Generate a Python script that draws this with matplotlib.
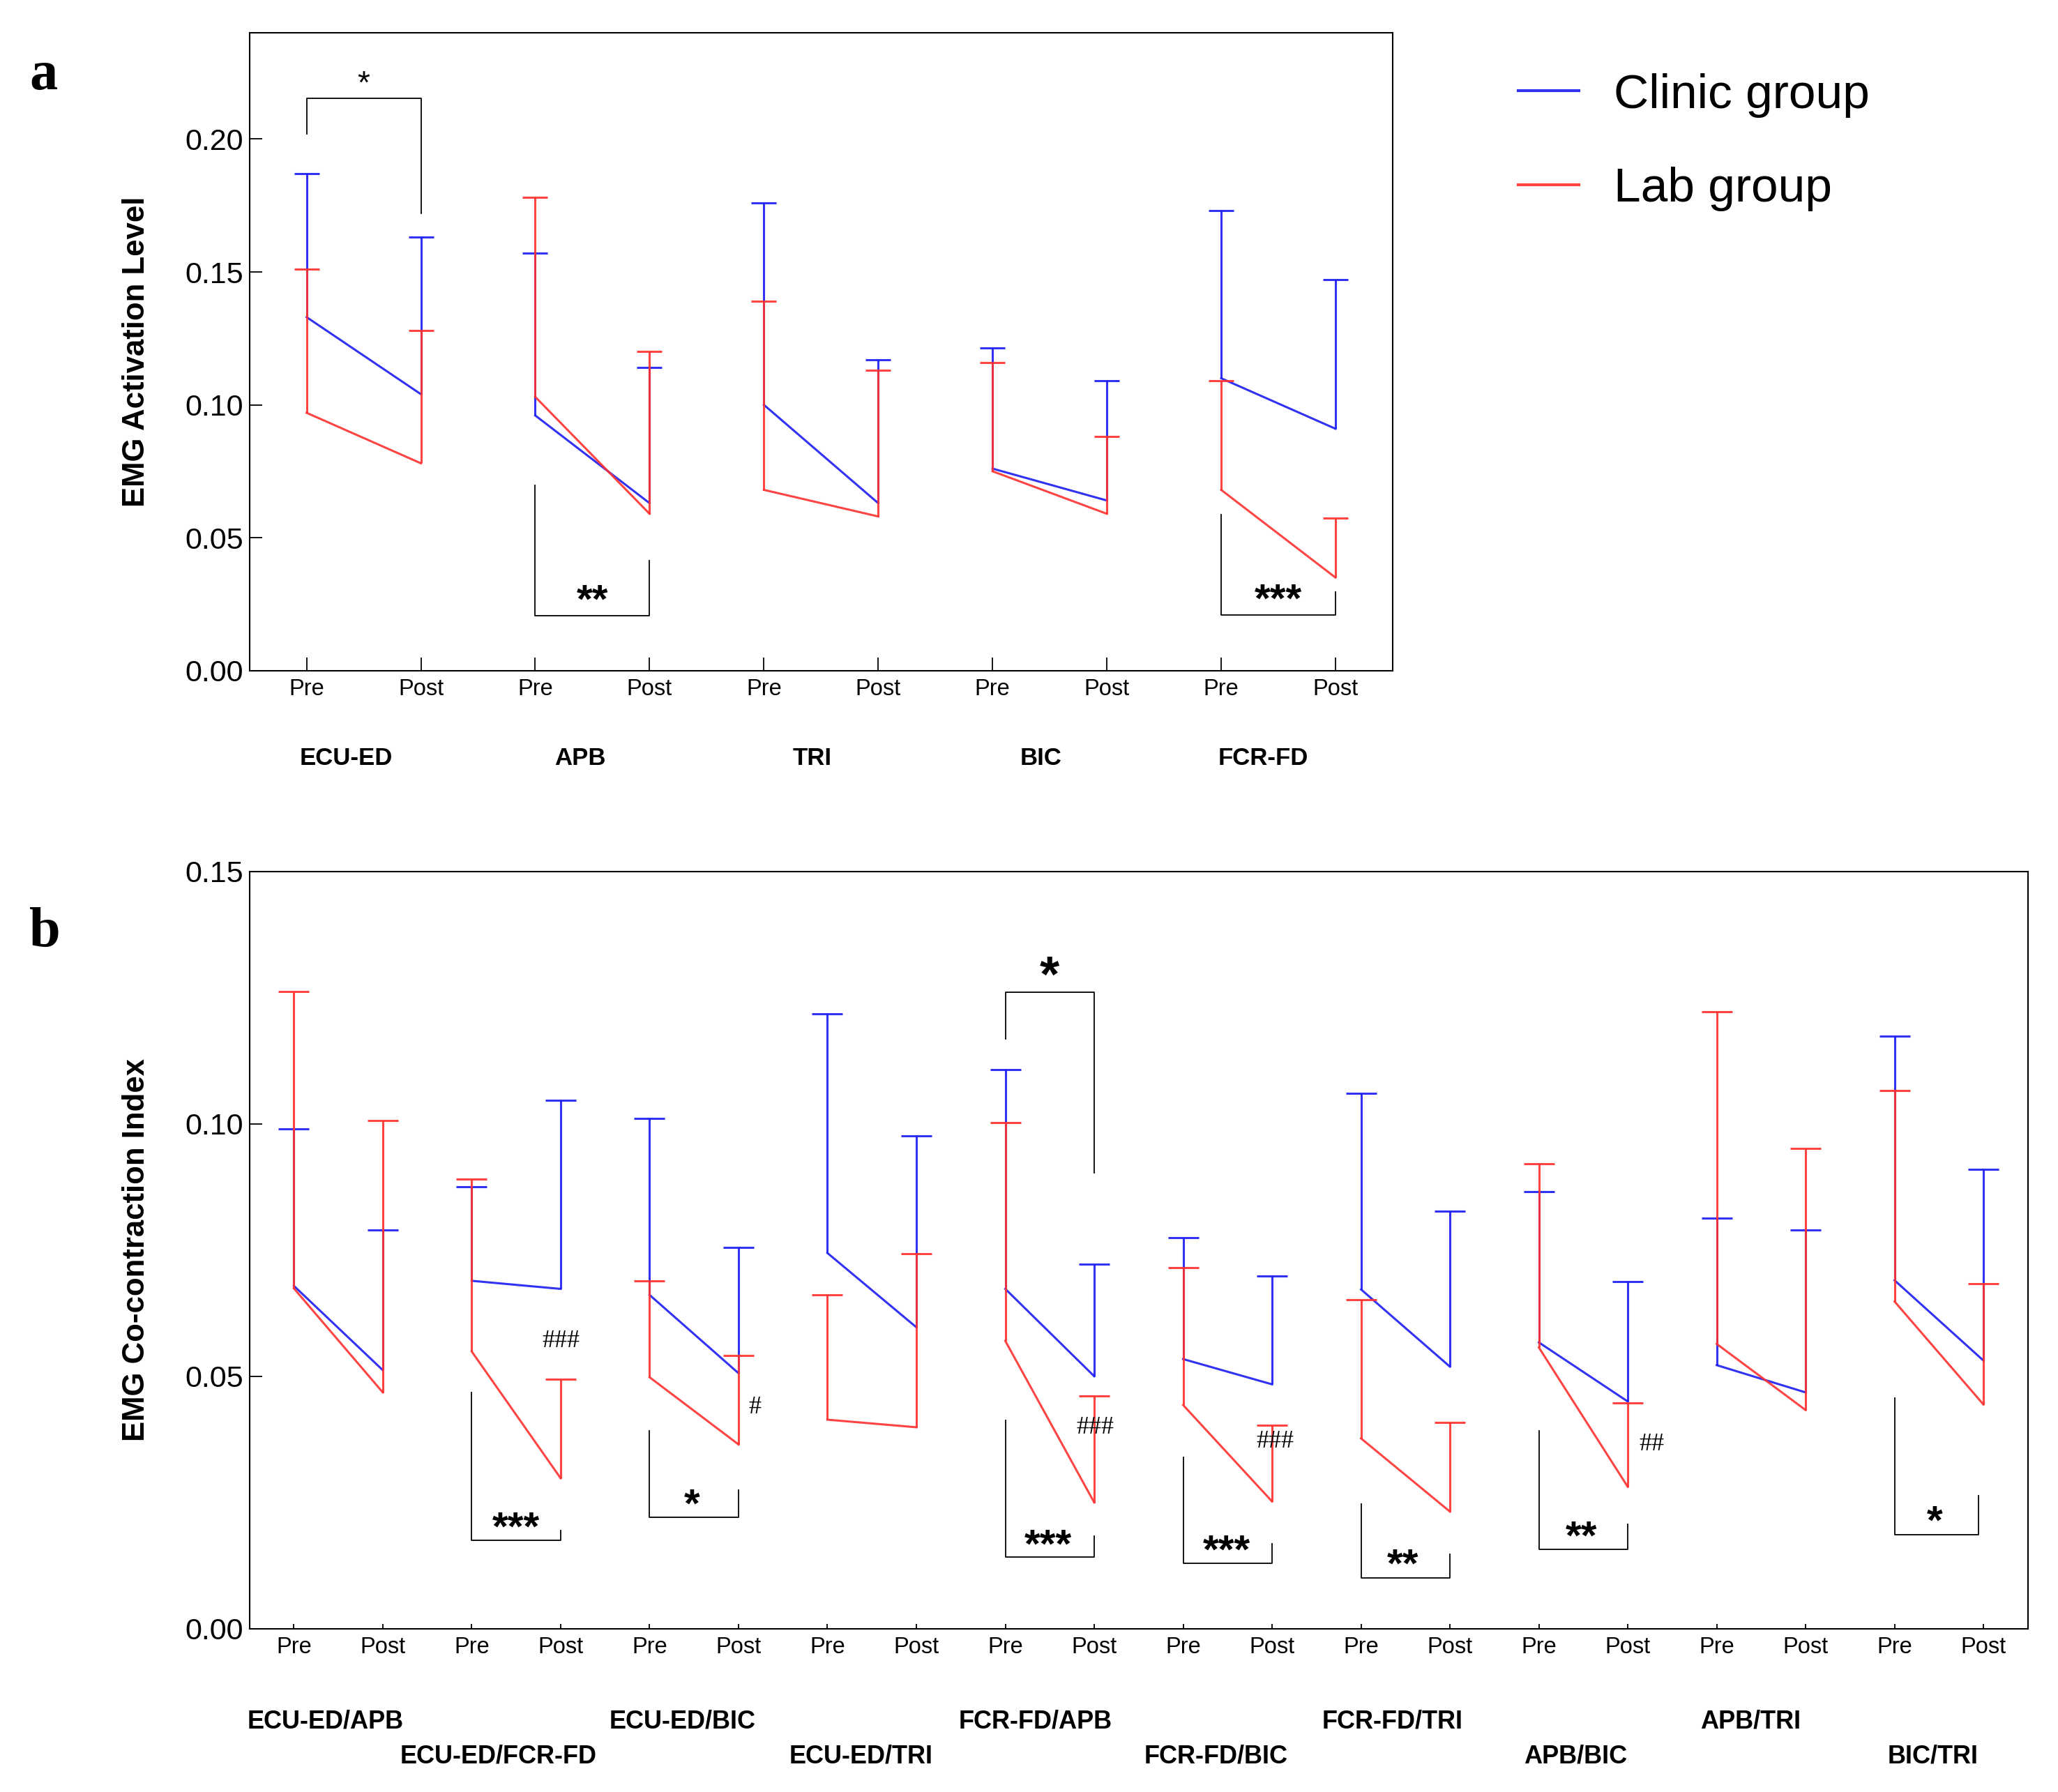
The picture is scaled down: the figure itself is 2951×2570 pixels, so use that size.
import numpy as np
import matplotlib.pyplot as plt
from matplotlib.transforms import blended_transform_factory

plt.rcParams['font.family'] = ['Liberation Sans', 'DejaVu Sans']

blue = '#1c1cf4'
red = '#ff3030'
lineWidth = 2.2

# panel a: EMG activation level, values ordered (pre, post) for each muscle
muscles = ['ECU-ED', 'APB', 'TRI', 'BIC', 'FCR-FD']
clinicMeanA = [0.133, 0.104, 0.096, 0.063, 0.100, 0.063, 0.076, 0.064, 0.110, 0.091]
clinicSdA = [0.054, 0.059, 0.061, 0.051, 0.076, 0.054, 0.0455, 0.045, 0.063, 0.056]
labMeanA = [0.097, 0.078, 0.103, 0.059, 0.068, 0.058, 0.075, 0.059, 0.068, 0.035]
labSdA = [0.054, 0.050, 0.075, 0.061, 0.071, 0.055, 0.041, 0.029, 0.041, 0.0225]

# panel b: EMG co-contraction index, values ordered (pre, post) for each pair
pairs = ['ECU-ED/APB', 'ECU-ED/FCR-FD', 'ECU-ED/BIC', 'ECU-ED/TRI', 'FCR-FD/APB',
         'FCR-FD/BIC', 'FCR-FD/TRI', 'APB/BIC', 'APB/TRI', 'BIC/TRI']
clinicMeanB = [0.0679, 0.0512, 0.0689, 0.0673, 0.0661, 0.0506, 0.0744, 0.0597, 0.0673, 0.0500,
               0.0534, 0.0484, 0.0672, 0.0519, 0.0567, 0.0450, 0.0522, 0.0468, 0.0690, 0.0531]
clinicSdB = [0.0311, 0.0278, 0.0186, 0.0374, 0.0349, 0.0249, 0.0474, 0.0379, 0.0434, 0.0222,
             0.0241, 0.0214, 0.0388, 0.0308, 0.0299, 0.0237, 0.0291, 0.0322, 0.0484, 0.0379]
labMeanB = [0.0674, 0.0468, 0.0549, 0.0298, 0.0498, 0.0365, 0.0414, 0.0399, 0.0570, 0.0250,
            0.0443, 0.0252, 0.0377, 0.0232, 0.0557, 0.0281, 0.0564, 0.0433, 0.0648, 0.0444]
labSdB = [0.0588, 0.0539, 0.0341, 0.0196, 0.0191, 0.0176, 0.0247, 0.0344, 0.0432, 0.0211,
          0.0272, 0.0151, 0.0275, 0.0177, 0.0364, 0.0166, 0.0658, 0.0518, 0.0418, 0.0240]

# significance brackets: (x left, x right, y left end, y bar, y right end)
bracketsA = [(0, 1, 0.202, 0.2154, 0.172), (2, 3, 0.0696, 0.0206, 0.0413),
             (8, 9, 0.0588, 0.021, 0.0296)]
bracketsB = [(2, 3, 0.0468, 0.0175, 0.0195), (4, 5, 0.0392, 0.0221, 0.0275),
             (8, 9, 0.1168, 0.126, 0.0903), (8, 9, 0.0412, 0.0142, 0.0183),
             (10, 11, 0.034, 0.013, 0.0168), (12, 13, 0.0247, 0.0101, 0.0147),
             (14, 15, 0.0392, 0.0157, 0.0207), (18, 18.94, 0.0457, 0.0186, 0.0263)]
# (text, x, y, fontsize, bold)
starsA = [('*', 0.5, 0.2205, 33, False), ('**', 2.5, 0.0257, 42, True), ('***', 8.5, 0.026, 42, True)]
starsB = [('***', 2.5, 0.0197, 42, True), ('*', 4.48, 0.0242, 42, True), ('*', 8.5, 0.129, 52, True),
          ('***', 8.48, 0.0162, 42, True), ('***', 10.49, 0.0151, 42, True),
          ('**', 12.47, 0.0123, 42, True), ('**', 14.48, 0.0179, 42, True), ('*', 18.45, 0.0209, 42, True)]
hashesB = [('###', 3.0, 0.0569), ('#', 5.18, 0.0438), ('###', 9.01, 0.0398),
           ('###', 11.03, 0.037), ('##', 15.27, 0.0365)]
# horizontal shift of the group names from the middle of each pre/post pair
labelShiftA = [-0.155, -0.11, -0.075, -0.075, -0.13]
labelShiftB = [-0.147, -0.2, -0.13, -0.12, -0.16, -0.13, -0.15, -0.09, -0.12, -0.07]


def draw_panel(ax, clinicMean, clinicSd, labMean, labSd, capsize):
  x = np.arange(len(clinicMean))
  handles = []
  for mean, sd, color, name in [(clinicMean, clinicSd, blue, 'Clinic group'),
                                (labMean, labSd, red, 'Lab group')]:
    mean = np.array(mean)
    sd = np.array(sd)
    eb = ax.errorbar(x, mean, yerr=[np.zeros_like(sd), sd], fmt='none', ecolor=color,
                     elinewidth=lineWidth, capsize=capsize, capthick=lineWidth, alpha=0.9)
    # only the upper whisker carries a cap
    eb[1][0].set_visible(False)
    for i in range(0, len(x), 2):
      line, = ax.plot(x[i:i + 2], mean[i:i + 2], color=color, lw=lineWidth, alpha=0.9, label=name)
    handles.append(line)
  ax.set_xlim(-0.5, len(x) - 0.5)
  ax.set_xticks(x)
  ax.set_xticklabels(['Pre', 'Post'] * (len(x) // 2))
  for s in ax.spines.values():
    s.set_linewidth(1.5)
  return handles


def draw_brackets(ax, brackets):
  for x0, x1, y0, yb, y1 in brackets:
    ax.plot([x0, x0, x1, x1], [y0, yb, yb, y1], color='black', lw=1.3)


fig = plt.figure(figsize=(29.51, 25.70), dpi=100)
ax1 = fig.add_axes([0.1212, 0.6258, 0.5555, 0.3559])
ax2 = fig.add_axes([0.1212, 0.0911, 0.8642, 0.4227])

# ---- panel a
handles = draw_panel(ax1, clinicMeanA, clinicSdA, labMeanA, labSdA, 13)
ax1.set_ylim(0, 0.24)
ax1.set_yticks([0, 0.05, 0.10, 0.15, 0.20])
ax1.set_yticklabels(['0.00', '0.05', '0.10', '0.15', '0.20'])
ax1.tick_params(axis='y', direction='in', length=13, width=1.3, pad=6.5, labelsize=31)
ax1.tick_params(axis='x', direction='in', length=14, width=1.3, pad=8, labelsize=23.5)
draw_brackets(ax1, bracketsA)
for txt, x, y, fs, bold in starsA:
  ax1.text(x, y, txt, ha='center', va='center', fontsize=fs,
           fontweight='bold' if bold else 'normal')
trA = blended_transform_factory(ax1.transData, ax1.transAxes)
for i, name in enumerate(muscles):
  ax1.text(2 * i + 0.5 + labelShiftA[i], -0.12, name, transform=trA, ha='center', va='top',
           fontsize=25, fontweight='bold')

# ---- panel b
draw_panel(ax2, clinicMeanB, clinicSdB, labMeanB, labSdB, 16)
ax2.set_ylim(0, 0.15)
ax2.set_yticks([0, 0.05, 0.10, 0.15])
ax2.set_yticklabels(['0.00', '0.05', '0.10', '0.15'])
ax2.tick_params(axis='y', direction='in', length=13, width=1.3, pad=6.5, labelsize=31)
ax2.tick_params(axis='x', direction='in', length=5, width=1.3, pad=8, labelsize=23.5)
draw_brackets(ax2, bracketsB)
for txt, x, y, fs, bold in starsB:
  ax2.text(x, y, txt, ha='center', va='center', fontsize=fs,
           fontweight='bold' if bold else 'normal')
for txt, x, y in hashesB:
  ax2.text(x, y, txt, ha='center', va='center', fontsize=26, family='Liberation Serif')
trB = blended_transform_factory(ax2.transData, ax2.transAxes)
for i, name in enumerate(pairs):
  ypos = -0.106 if i % 2 == 0 else -0.1524
  ax2.text(2 * i + 0.5 + labelShiftB[i], ypos, name, transform=trB, ha='center', va='top',
           fontsize=26, fontweight='bold')

# axis titles and panel letters
fig.text(0.0663, 0.6258 + 0.3559 / 2, 'EMG Activation Level', rotation=90, ha='center',
         va='center', fontsize=31.5, fontweight='bold')
fig.text(0.0663, 0.0911 + 0.4227 / 2, 'EMG Co-contraction Index', rotation=90, ha='center',
         va='center', fontsize=31.5, fontweight='bold')
fig.text(0.0142, 0.9502, 'a', fontsize=58, fontweight='bold', family='Liberation Serif',
         ha='left', va='baseline')
fig.text(0.0142, 0.472, 'b', fontsize=58, fontweight='bold', family='Liberation Serif',
         ha='left', va='baseline')

leg = fig.legend(handles, ['Clinic group', 'Lab group'], loc='center left',
                 bbox_to_anchor=(0.7377, 0.9206), frameon=False, fontsize=50,
                 handlelength=1.25, handletextpad=0.73, labelspacing=1.02,
                 borderpad=0, borderaxespad=0)
for h in leg.get_lines():
  h.set_linewidth(3)

fig.savefig('out.png', dpi=100)
